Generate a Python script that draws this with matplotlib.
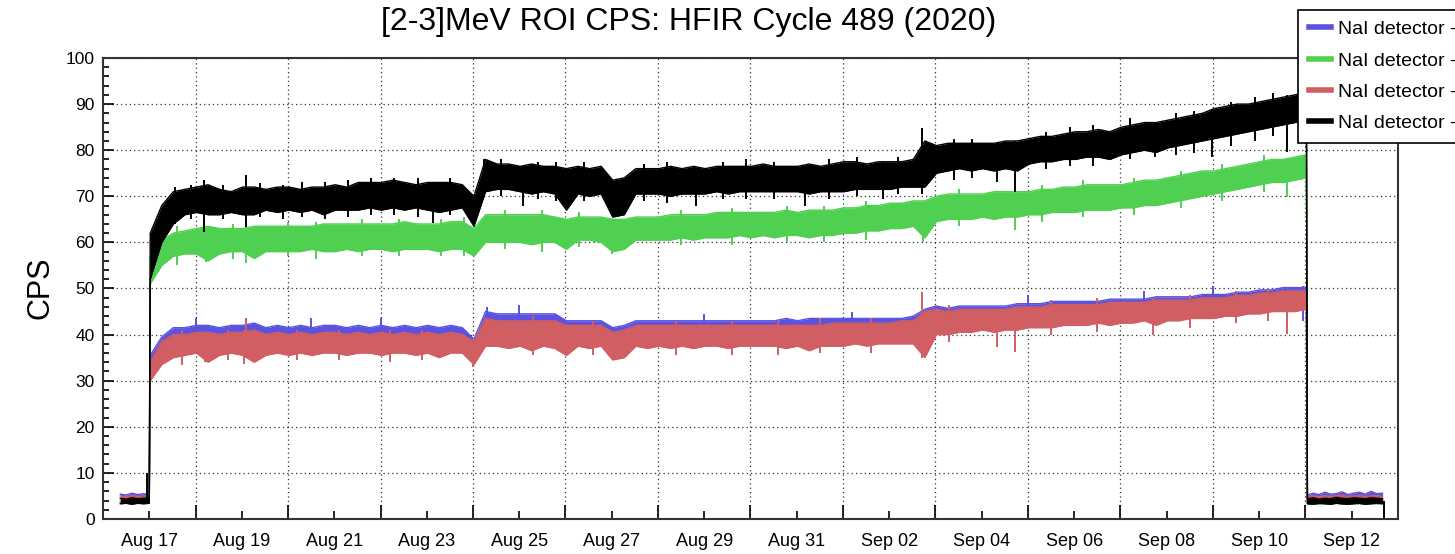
import numpy as np
import pandas as pd
import matplotlib
matplotlib.use("Agg")
import matplotlib.pyplot as plt
import matplotlib.dates as mdates
from matplotlib.lines import Line2D

plt.rcParams['font.family'] = ['Liberation Sans', 'DejaVu Sans']

# time grid: low-rate run before startup, 6h samples during the cycle, after shutdown
t_pre = pd.date_range('2020-08-16 09:00', '2020-08-17 00:00', freq='3h')
t_run = pd.date_range('2020-08-17 00:30', periods=101, freq='6h')
t_post = pd.date_range('2020-09-11 01:00', periods=14, freq='3h')
t0 = pd.Timestamp('2020-08-17 00:00')

labels = ['NaI detector - 1', 'NaI detector - 2', 'NaI detector - 3', 'NaI detector - 4']
colors = ['#5a52e0', '#50d050', '#d05e62', '#000000']

# envelope of each trace (CPS)
blue_pre_lo = [3.8, 3.9, 3.8, 4.0, 3.9, 3.8]
blue_pre_hi = [5.4, 5.2, 5.6, 5.3, 5.5, 5.2]
blue_lo = [31, 34.5, 36, 36.5, 37, 35, 36.5, 37, 36.5, 35, 36.5, 37, 36.5, 37, 36.5, 37,
           37, 36.5, 37, 37, 36.5, 37, 37, 36.5, 37, 36, 37, 37, 34.5, 38.5, 38.5, 38,
           38.5, 37.5, 38.5, 38, 36.5, 38.5, 38, 38.5, 35.5, 36, 38.5, 38, 38.5, 38, 38.5, 38,
           38.5, 38.5, 38, 38.5, 38.5, 38.5, 38.5, 38, 38.5, 37.5, 38.5, 38.5, 38.5, 39, 38.5, 39,
           39, 39, 39, 36, 41, 41, 41.5, 41.5, 42, 41.5, 42, 42, 42.5, 42.5, 42.5, 43,
           43, 43, 43.5, 43, 43.5, 43.5, 44, 43, 44, 44, 44.5, 44.5, 44.5, 45, 45, 45.5,
           45.5, 46, 46, 46, 46.5]
blue_hi = [35.5, 39.5, 41.5, 41.5, 42, 42, 41.5, 42, 42, 42.5, 41.5, 42, 41.5, 42, 41.5, 42,
           42, 41.5, 42, 41.5, 42, 41.5, 42, 41.5, 42, 41.5, 42, 41.5, 39, 45, 44.5, 44.5,
           44.5, 44.5, 44.5, 44.5, 43, 43, 43, 43, 41.5, 42, 43, 43, 43, 43, 43, 43,
           43, 43, 43, 43, 43, 43, 43, 43.5, 43, 43.5, 43.5, 43.5, 43.5, 43.5, 43.5, 43.5,
           43.5, 43.5, 44, 45.5, 46.2, 45.7, 46.2, 46.2, 46.2, 46.2, 46.2, 46.7, 46.7, 46.7, 47.2, 47.2,
           47.2, 47.2, 47.2, 47.7, 47.7, 47.7, 47.7, 48.2, 48.2, 48.2, 48.2, 48.7, 48.7, 48.7, 49.2, 49.2,
           49.7, 49.7, 50.2, 50.2, 50.2]
blue_post_lo = [3.9, 3.8, 4.0, 3.9, 3.8, 4.0, 3.9, 3.8, 3.9, 4.0, 3.8, 3.9, 4.0, 3.9]
blue_post_hi = [5.2, 5.6, 5.3, 5.8, 5.4, 5.5, 5.9, 5.3, 5.6, 5.8, 5.4, 6.0, 5.5, 5.6]

green_pre_lo = [3.4, 3.5, 3.3, 3.5, 3.4, 3.5]
green_pre_hi = [4.4, 4.3, 4.6, 4.4, 4.5, 4.4]
green_lo = [51, 55, 57, 57.5, 57.5, 56, 57.5, 58, 58, 56.5, 58, 58, 58, 58, 58.5, 58,
            58, 58.5, 58, 58.5, 58.5, 58, 58.5, 58.5, 58.5, 58, 58.5, 58.5, 57, 60, 60, 60,
            60, 59.5, 60, 60, 58.5, 60.5, 60.5, 60, 58, 58.5, 60.5, 60.5, 60.5, 60.5, 61, 60.5,
            61, 61, 61, 61.5, 61, 61.5, 61, 61.5, 61.5, 61, 61.5, 61.5, 62, 62, 62.5, 62.5,
            63, 63, 63.5, 61, 64.5, 65, 65, 65, 65.5, 65, 65.5, 65.5, 66, 66, 66.5, 66.5,
            66.5, 67, 67, 67, 67.5, 67.5, 68, 68, 68.5, 69, 69.5, 70, 70.5, 71, 71.5, 72,
            72.5, 73, 73, 73.5, 74]
green_hi = [57, 60.5, 62, 62.5, 63, 63.5, 63, 63, 63, 63.5, 63.5, 63.5, 63.5, 63.5, 63.5, 64,
            64, 64, 64, 64, 64, 64, 64.5, 64, 64, 64, 64.5, 64.5, 63, 66, 66, 66,
            66, 66, 66, 65.5, 65, 65.5, 65.5, 65.5, 65, 65, 65.5, 65.5, 65.5, 66, 66, 66,
            66, 66.5, 66.5, 66.5, 66.5, 66.5, 66.5, 67, 66.5, 67, 67, 67, 67.5, 67.5, 68, 68,
            68.5, 68.5, 69, 69, 70, 70.5, 70.5, 70.5, 70.5, 71, 71, 71, 71, 71.5, 71.5, 72,
            72, 72.5, 72.5, 72.5, 72.5, 73, 73.5, 73.5, 74, 74.5, 75, 75.5, 75.5, 76, 76.5, 77,
            77.5, 78, 78, 78.5, 79]
green_post_lo = [3.3, 3.4, 3.2, 3.4, 3.3, 3.4, 3.2, 3.3, 3.4, 3.3, 3.2, 3.4, 3.3, 3.4]
green_post_hi = [4.3, 4.4, 4.2, 4.5, 4.3, 4.4, 4.6, 4.3, 4.4, 4.5, 4.3, 4.4, 4.5, 4.3]

red_pre_lo = [3.6, 3.7, 3.5, 3.7, 3.6, 3.7]
red_pre_hi = [5.0, 4.8, 5.1, 4.9, 5.0, 4.9]
red_lo = [30, 33.5, 35, 35.5, 36, 34, 35.5, 36, 35.5, 34, 35.5, 36, 35.5, 36, 35.5, 36,
          36, 35.5, 36, 36, 35.5, 36, 36, 35.5, 36, 35, 36, 36, 33.5, 37.5, 37.5, 37,
          37.5, 36.5, 37.5, 37, 35.5, 37.5, 37, 37.5, 34.5, 35, 37.5, 37, 37.5, 37, 37.5, 37,
          37.5, 37.5, 37, 37.5, 37.5, 37.5, 37.5, 37, 37.5, 36.5, 37.5, 37.5, 37.5, 38, 37.5, 38,
          38, 38, 38, 35, 40, 40, 40.5, 40.5, 41, 40.5, 41, 41, 41.5, 41.5, 41.5, 42,
          42, 42, 42.5, 42, 42.5, 42.5, 43, 42, 43, 43, 43.5, 43.5, 43.5, 44, 44, 44.5,
          44.5, 45, 45, 45, 45.5]
red_hi = [34, 38.5, 40, 40, 40.5, 40.5, 40, 40.5, 40.5, 41, 40, 40.5, 40, 40.5, 40, 40.5,
          40.5, 40, 40.5, 40, 40.5, 40, 40.5, 40, 40.5, 40, 40.5, 40, 38.5, 43.5, 43, 43,
          43, 43, 43, 43, 42, 42, 42, 42, 40.5, 41, 42, 42, 42, 42, 42, 42,
          42, 42, 42, 42, 42, 42, 42, 42, 42, 42, 42, 42.5, 42.5, 42.5, 42.5, 42.5,
          42.5, 43, 43, 45, 45.5, 45, 45.5, 45.5, 45.5, 45.5, 45.5, 46, 46, 46, 46.5, 46.5,
          46.5, 46.5, 46.5, 47, 47, 47, 47, 47.5, 47.5, 47.5, 47.5, 48, 48, 48, 48.5, 48.5,
          49, 49, 49.5, 49.5, 49.5]
red_post_lo = [3.6, 3.5, 3.7, 3.6, 3.5, 3.7, 3.6, 3.5, 3.6, 3.7, 3.5, 3.6, 3.7, 3.6]
red_post_hi = [4.9, 5.0, 4.8, 5.1, 4.9, 5.0, 5.2, 4.9, 5.0, 5.1, 4.9, 5.0, 5.1, 4.9]

black_pre_lo = [3.3, 3.4, 3.2, 3.4, 3.3, 3.4]
black_pre_hi = [4.5, 4.3, 4.6, 4.4, 4.5, 4.6]
black_lo = [52, 60, 64, 66, 66.5, 66, 66, 66.5, 66, 66, 67, 66.5, 67, 66.5, 67, 66,
            67, 67, 67, 67.5, 67, 67.5, 67, 67.5, 67, 66.5, 67, 67.5, 63.5, 71, 71.5, 71.5,
            71, 70.5, 71, 70.5, 67, 70.5, 70, 70.5, 65.5, 66, 70.5, 70.5, 70.5, 70, 70.5, 70.5,
            70.5, 71, 70.5, 71, 71, 71, 71, 71, 71, 70.5, 71, 71, 71, 71.5, 71.5, 71.5,
            71.5, 72, 72, 72, 75, 75.5, 76, 75.5, 76, 75.5, 76, 75.5, 77, 77.5, 77.5, 78,
            78, 78.5, 78.5, 78, 79, 79.5, 80, 79.5, 80.5, 81, 81.5, 82, 82.5, 83, 83.5, 84,
            84.5, 85, 85.5, 86, 86.5]
black_hi = [62, 68, 71, 71.5, 72, 72.5, 71.5, 71, 72, 72, 71.5, 72, 72, 71.5, 72, 72,
            72.5, 72, 73, 73, 73, 73.5, 73, 72.5, 73, 73, 73, 72.5, 70, 78, 77, 77,
            76.5, 77, 76.5, 76.5, 76, 76.5, 76, 76.5, 73.5, 74, 76, 76, 76, 76.5, 76, 76.5,
            76, 76.5, 76.5, 76.5, 76.5, 77, 76.5, 76.5, 76.5, 77, 76.5, 77, 77.5, 77.5, 77, 77.5,
            77.5, 77.5, 78, 82, 81, 81.5, 81.5, 81.5, 81.5, 81.5, 82, 82, 82.5, 83, 83, 83.5,
            84, 84, 84.5, 84, 85, 85.5, 86, 86, 86.5, 87, 87.5, 88, 89, 89.5, 90, 90,
            90.5, 91, 91.5, 92, 92.5]
black_post_lo = [3.3, 3.2, 3.4, 3.3, 3.2, 3.4, 3.3, 3.2, 3.3, 3.4, 3.2, 3.3, 3.4, 3.3]
black_post_hi = [4.4, 4.6, 4.3, 4.5, 4.4, 4.7, 4.5, 4.4, 4.6, 4.5, 4.4, 4.6, 4.5, 4.4]

# short excursions (days after Aug 17 00:00, low, high)
blue_spk_t = [1.0, 2.09, 3.5, 5.0, 7.3, 8.0, 12.0, 15.2, 19.0, 21.5, 23.0, 24.95]
blue_spk_lo = [40, 40, 40, 40, 42, 43, 41.5, 42, 45, 46, 47, 43]
blue_spk_hi = [43.5, 43.5, 43.5, 43.5, 46, 46.5, 44.5, 45, 48.5, 49.5, 50.5, 50.5]
green_spk_t = [0.6, 1.23, 1.8, 2.1, 3.0, 3.6, 4.6, 5.4, 6.3, 6.8, 7.7, 8.5, 9.3, 10.0,
               11.5, 12.6, 13.8, 14.6, 15.5, 16.72, 17.5, 18.72, 19.3, 20.2, 21.3, 22.3,
               23.2, 24.1, 24.59]
green_spk_lo = [55, 55.8, 56.5, 55.5, 57, 56.5, 57, 57, 57, 57, 58.5, 58, 59, 57.5,
                59.5, 59.5, 60, 60, 60.5, 60, 63.5, 62.6, 64.5, 65.5, 66, 67.5,
                69, 71, 69.9]
green_spk_hi = [63.5, 63, 64, 63.5, 64.5, 64.5, 65, 65, 65, 65.5, 67, 67, 66.5, 65,
                67, 67.5, 68, 68, 69, 69, 71.5, 71, 72.5, 73.5, 74, 75.5,
                77, 79, 78]
red_spk_t = [0.7, 1.2, 1.7, 2.05, 2.09, 3.2, 4.1, 5.2, 5.9, 7.0, 8.3, 9.6, 11.4, 12.6,
             13.6, 14.5, 15.6, 16.7, 17.3, 18.32, 18.72, 19.5, 20.5, 21.7, 22.5, 23.5,
             24.2, 24.59]
red_spk_lo = [33.5, 34, 34.5, 33.7, 36, 34.5, 34.5, 34, 34.5, 33, 35.5, 35.5, 35.5, 35.5,
              35.5, 36, 36, 35, 38.5, 37.3, 36.2, 40, 40.5, 40, 41.5, 42.5,
              43, 40.2]
red_spk_hi = [41, 40.5, 41, 41, 43.5, 41, 41, 41, 41, 39, 44, 43, 43, 43,
              43, 43.5, 43.5, 49.2, 46.5, 45.5, 46, 47.5, 48, 48, 48.5, 49.5,
              50, 49.5]
black_spk_t = [-0.05, 0.55, 0.9, 1.19, 1.6, 2.09, 2.4, 2.9, 3.3, 3.8, 4.3, 4.8, 5.3, 5.8,
               6.14, 6.5, 7.23, 7.6, 8.09, 8.4, 8.8, 9.4, 10.7, 11.2, 11.83, 12.4, 12.9,
               13.5, 14.18, 14.7, 15.3, 15.87, 16.2, 16.7, 17.4, 17.8, 18.32, 18.72, 19.4,
               19.9, 20.4, 21.2, 21.74, 22.2, 22.6, 22.97, 23.4, 23.9, 24.3, 24.59, 26.7]
black_spk_lo = [4, 64, 65, 62.3, 65, 63.4, 65.5, 65, 65.5, 65, 65.5, 66, 66, 65.5,
                64.1, 66, 70, 70, 67.8, 69.5, 69, 69, 69, 68.5, 68, 69.5, 69.5,
                69.5, 67.8, 69.5, 70, 69.5, 70.5, 70.5, 73.5, 74, 73, 71, 76,
                76.5, 76.5, 78, 78.5, 79, 79.5, 78.5, 81, 82, 83, 79.7, 0]
black_spk_hi = [10, 72, 72.5, 73.5, 72.5, 74.6, 72.8, 72.5, 73, 73, 73.5, 74, 74, 74,
                73, 74, 78, 78, 76.5, 77.5, 77.5, 77.5, 77, 77.5, 76, 77.5, 78,
                77.5, 76.5, 78, 78.5, 77.5, 78.5, 84.8, 82.5, 82.5, 81.5, 82, 84,
                85, 85.5, 87, 86, 88, 88.5, 89, 90.5, 91.5, 92.5, 92, 4]

series = [
    (blue_pre_lo + blue_lo + blue_post_lo, blue_pre_hi + blue_hi + blue_post_hi,
     blue_spk_t, blue_spk_lo, blue_spk_hi),
    (green_pre_lo + green_lo + green_post_lo, green_pre_hi + green_hi + green_post_hi,
     green_spk_t, green_spk_lo, green_spk_hi),
    (red_pre_lo + red_lo + red_post_lo, red_pre_hi + red_hi + red_post_hi,
     red_spk_t, red_spk_lo, red_spk_hi),
    (black_pre_lo + black_lo + black_post_lo, black_pre_hi + black_hi + black_post_hi,
     black_spk_t, black_spk_lo, black_spk_hi),
]

t = np.concatenate([t_pre.values, t_run.values, t_post.values])

fig = plt.figure(figsize=(14.55, 5.54), dpi=100)
ax = fig.add_axes([0.0708, 0.0632, 0.890, 0.8321])

# later detectors are drawn on top of earlier ones
for i, ((lo, hi, st, slo, shi), c) in enumerate(zip(series, colors)):
    z = 3 + i
    ax.fill_between(t, lo, hi, color=c, lw=0, zorder=z)
    ax.plot(t, lo, color=c, lw=1.0, zorder=z)
    ax.plot(t, hi, color=c, lw=1.0, zorder=z)
    ts = (t0 + pd.to_timedelta(np.array(st), unit='D')).values
    ax.vlines(ts, slo, shi, color=c, lw=1.4, zorder=z)

ax.set_xlim(pd.Timestamp('2020-08-16'), pd.Timestamp('2020-09-13'))
ax.set_ylim(0, 100)

lab_days = pd.date_range('2020-08-17', '2020-09-12', freq='2D')
grid_days = pd.date_range('2020-08-18', '2020-09-11', freq='2D')
ax.set_xticks(mdates.date2num(lab_days.to_pydatetime()))
ax.set_xticks(mdates.date2num(grid_days.to_pydatetime()), minor=True)
ax.xaxis.set_major_formatter(mdates.DateFormatter('%b %d'))
ax.set_yticks(np.arange(0, 101, 10))
ax.set_yticks(np.arange(0, 101, 2), minor=True)

ax.tick_params(axis='x', which='major', direction='in', length=6, width=1.2,
               labelsize=13, pad=10, top=False)
ax.tick_params(axis='x', which='minor', direction='in', length=10, width=1.2, top=False)
ax.tick_params(axis='y', which='major', direction='in', length=8, width=1.2,
               labelsize=12.5, pad=6, right=False)
ax.tick_params(axis='y', which='minor', direction='in', length=4.3, width=1.2, right=False)

dots = (0, (1, 2.5))
ax.grid(True, which='minor', axis='x', color='#333333', lw=0.9, ls=dots)
ax.grid(True, which='major', axis='y', color='#333333', lw=0.9, ls=dots)

for sp in ax.spines.values():
    sp.set_color('#333333')
    sp.set_linewidth(1.5)
    sp.set_zorder(10)

fig.text(40 / 1455, 0.48, 'CPS', rotation=90, ha='center', va='center', fontsize=22)
fig.text(689 / 1455, 0.96, '[2-3]MeV ROI CPS: HFIR Cycle 489 (2020)',
         ha='center', va='center', fontsize=23)

handles = [Line2D([], [], color=c, lw=4) for c in colors]
leg = fig.legend(handles, labels, loc='upper left', bbox_to_anchor=(1298 / 1455, 1 - 10 / 554),
                 bbox_transform=fig.transFigure, fontsize=14, frameon=True, fancybox=False,
                 edgecolor='black', framealpha=1, borderaxespad=0, borderpad=0.55,
                 handlelength=1.15, handletextpad=0.35, labelspacing=0.7)
leg.get_frame().set_linewidth(1.2)

fig.savefig('out.png', dpi=100)
